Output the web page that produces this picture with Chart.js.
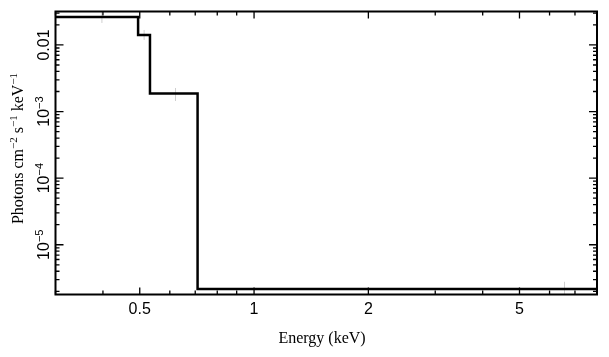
<!DOCTYPE html>
<html><head><meta charset="utf-8">
<script src="https://cdn.jsdelivr.net/npm/chart.js@4.4.1/dist/chart.umd.min.js"></script>
<style>html,body{margin:0;padding:0;background:#fff;}canvas{display:block;}</style>
</head><body>
<canvas id="c" width="609" height="357"></canvas>
<script>
// ---- data ----
const binEdges = [0.3, 0.495, 0.532, 0.710, 8.0];          // keV
const fluxValues = [0.0263, 0.0141, 0.00186, 2.16e-6];      // photons cm^-2 s^-1 keV^-1
const errCenters = [0.3975, 0.5135, 0.621, 6.57];
const errLow = [0.0214, 0.0119, 0.00144, 1.6e-6];
const errHigh = [0.033, 0.0168, 0.00226, 2.78e-6];
const xRange = [0.3, 8.0];
const yRange = [1.79e-6, 0.0318];
const xMajorTicks = [0.5, 1, 2, 5];
const xTickLabels = ['0.5', '1', '2', '5'];
const xMinorTicks = [0.3, 0.4, 0.6, 0.7, 0.8, 0.9, 3, 4, 6, 7, 8];
const yMajorTicks = [1e-5, 1e-4, 1e-3, 1e-2];
const yTickBase = ['10', '10', '10', '0.01'];
const yTickExp = ['−5', '−4', '−3', ''];
const xTitle = 'Energy (keV)';
const yTitleParts = [['Photons cm', false], ['−2', true], [' s', false], ['−1', true], [' keV', false], ['−1', true]];

// step line points
const stepPts = binEdges.map((e, i) => ({x: e, y: fluxValues[Math.min(i, fluxValues.length - 1)]}));

const yMinorTicks = [];
for (let d = -6; d <= -2; d++) for (let m = 2; m <= 9; m++) {
  const v = m * Math.pow(10, d);
  if (v > yRange[0] && v < yRange[1]) yMinorTicks.push(v);
}

const datasets = [{
  data: stepPts, stepped: true, borderColor: '#000', borderWidth: 2.5,
  pointRadius: 0, fill: false, tension: 0
}];
errCenters.forEach((c, i) => datasets.push({
  data: [{x: c, y: errLow[i]}, {x: c, y: errHigh[i]}],
  borderColor: '#cfcfcf', borderWidth: 1, pointRadius: 0, fill: false
}));

const SANS = '"Liberation Sans", Arial, sans-serif';
const SERIF = '"Liberation Serif", "Times New Roman", serif';

const decor = {
  id: 'decor',
  afterDatasetsDraw(chart) {
    const ctx = chart.ctx, a = chart.chartArea;
    const xs = chart.scales.x, ys = chart.scales.y;
    ctx.save();
    ctx.strokeStyle = '#000';
    ctx.fillStyle = '#000';
    // ticks (inward, all four sides)
    ctx.lineWidth = 1.3;
    const tick = (px, len, horiz) => {
      ctx.beginPath();
      if (horiz) { // x ticks at bottom and top
        ctx.moveTo(px, a.bottom); ctx.lineTo(px, a.bottom - len);
        ctx.moveTo(px, a.top); ctx.lineTo(px, a.top + len);
      } else {
        ctx.moveTo(a.left, px); ctx.lineTo(a.left + len, px);
        ctx.moveTo(a.right, px); ctx.lineTo(a.right - len, px);
      }
      ctx.stroke();
    };
    xMinorTicks.forEach(v => tick(xs.getPixelForValue(v), 4, true));
    xMajorTicks.forEach(v => tick(xs.getPixelForValue(v), 7, true));
    yMinorTicks.forEach(v => tick(ys.getPixelForValue(v), 4, false));
    yMajorTicks.forEach(v => tick(ys.getPixelForValue(v), 8, false));
    // frame
    ctx.lineWidth = 2;
    ctx.strokeRect(a.left, a.top, a.right - a.left, a.bottom - a.top);
    // x tick labels
    ctx.font = '16px ' + SANS;
    ctx.textAlign = 'center';
    ctx.textBaseline = 'alphabetic';
    xMajorTicks.forEach((v, i) => ctx.fillText(xTickLabels[i], xs.getPixelForValue(v), 313.5));
    // y tick labels (rotated)
    yMajorTicks.forEach((v, i) => {
      const py = ys.getPixelForValue(v);
      ctx.save();
      ctx.translate(48.5, py);
      ctx.rotate(-Math.PI / 2);
      ctx.textAlign = 'left';
      ctx.font = '16px ' + SANS;
      const wb = ctx.measureText(yTickBase[i]).width;
      ctx.font = '11px ' + SANS;
      const we = yTickExp[i] ? ctx.measureText(yTickExp[i]).width : 0;
      const x0 = -(wb + we) / 2;
      ctx.font = '16px ' + SANS;
      ctx.fillText(yTickBase[i], x0, 0);
      if (yTickExp[i]) { ctx.font = '11px ' + SANS; ctx.fillText(yTickExp[i], x0 + wb, -6); }
      ctx.restore();
    });
    // x title
    ctx.font = '16px ' + SERIF;
    ctx.textAlign = 'center';
    ctx.fillText(xTitle, 322, 343);
    // y title (rotated, with superscripts)
    ctx.save();
    ctx.translate(23, 148.5);
    ctx.rotate(-Math.PI / 2);
    ctx.textAlign = 'left';
    let total = 0;
    const widths = yTitleParts.map(([t, sup]) => {
      ctx.font = (sup ? '11px ' : '16px ') + SERIF;
      const w = ctx.measureText(t).width; total += w; return w;
    });
    let cx = -total / 2;
    yTitleParts.forEach(([t, sup], i) => {
      ctx.font = (sup ? '11px ' : '16px ') + SERIF;
      ctx.fillText(t, cx, sup ? -6.5 : 0);
      cx += widths[i];
    });
    ctx.restore();
    ctx.restore();
  }
};

new Chart(document.getElementById('c'), {
  type: 'line',
  data: {datasets},
  options: {
    responsive: false, animation: false,
    layout: {padding: {left: 55.5, right: 12, top: 11.5, bottom: 62.5}},
    plugins: {legend: {display: false}, tooltip: {enabled: false}},
    scales: {
      x: {type: 'logarithmic', min: xRange[0], max: xRange[1], display: false},
      y: {type: 'logarithmic', min: yRange[0], max: yRange[1], display: false}
    }
  },
  plugins: [decor]
});
</script>
</body></html>
